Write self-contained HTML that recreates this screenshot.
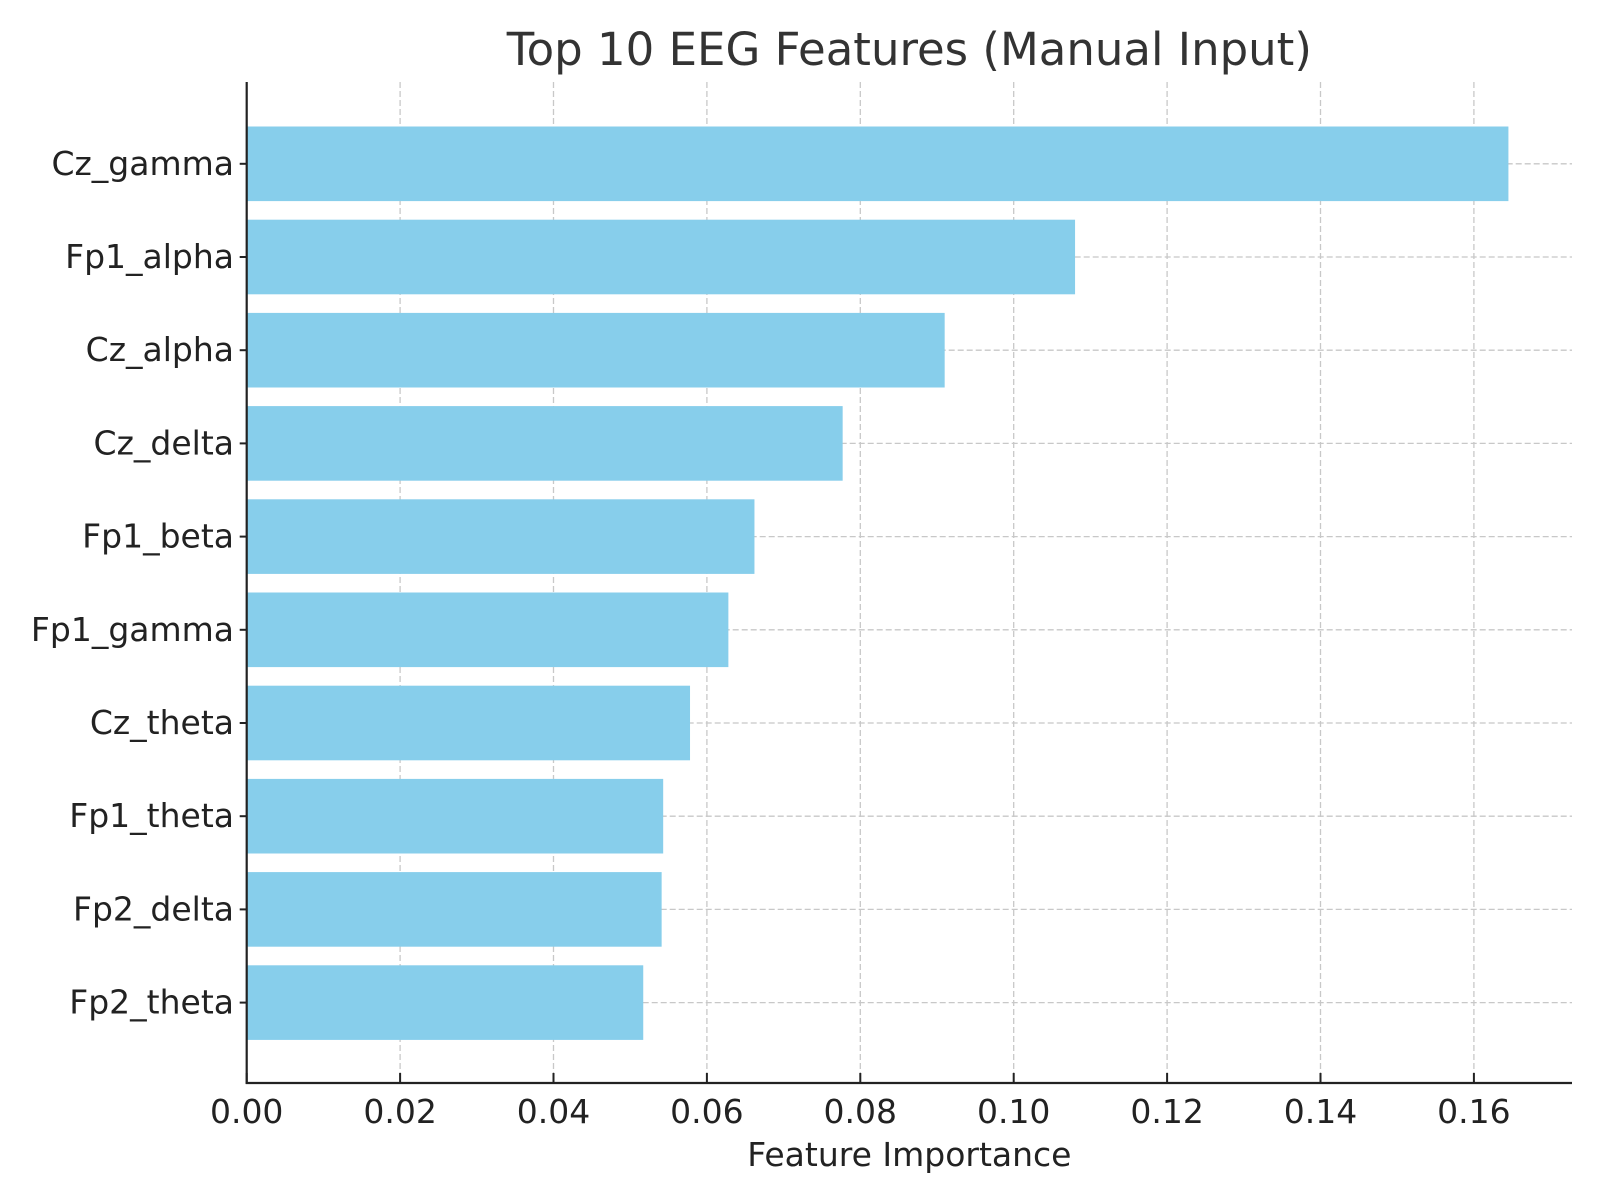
<!DOCTYPE html>
<html><head><meta charset="utf-8"><style>html,body{margin:0;background:#fff}svg{display:block}</style></head>
<body>
<svg id="chart" width="1600" height="1200" xmlns="http://www.w3.org/2000/svg" font-family="DejaVu Sans, Liberation Sans, sans-serif"></svg>
<script>
const categories = ["Cz_gamma","Fp1_alpha","Cz_alpha","Cz_delta","Fp1_beta","Fp1_gamma","Cz_theta","Fp1_theta","Fp2_delta","Fp2_theta"];
const values = [0.1645,0.1080,0.0910,0.0777,0.0662,0.0628,0.0578,0.0543,0.0541,0.0517];
const xTicks = [0,0.02,0.04,0.06,0.08,0.10,0.12,0.14,0.16];
const xTickLabels = ["0.00","0.02","0.04","0.06","0.08","0.10","0.12","0.14","0.16"];

const L=246.7, R=1572, T=82, B=1083;
const pxPerUnit = 153.4/0.02;
const x = v => L + v*pxPerUnit;
const y0 = 163.8, step = 93.2, bh = 74.6;
const y = i => y0 + i*step;
const svg = document.getElementById('chart');
const NS="http://www.w3.org/2000/svg";
function mk(tag, attrs, text){const e=document.createElementNS(NS,tag);for(const k in attrs)e.setAttribute(k,attrs[k]);if(text!==undefined)e.textContent=text;svg.appendChild(e);return e;}

xTicks.forEach((t,i)=>{
  const g=mk('line',{x1:x(t),x2:x(t),y1:T,y2:B,stroke:'#c8c8c8','stroke-width':1.3,'stroke-dasharray':'6,3'});
  
  
});
categories.forEach((c,i)=>{
  const g=mk('line',{x1:L,x2:R,y1:y(i),y2:y(i),stroke:'#c8c8c8','stroke-width':1.3,'stroke-dasharray':'6,3'});
  
  
});
categories.forEach((c,i)=>{
  const r=mk('rect',{x:L,y:y(i)-bh/2,width:x(values[i])-L,height:bh,fill:'#87ceeb'});
  
  
  const t=mk('text',{x:234,y:y(i)+11,'text-anchor':'end','font-size':33,fill:'#222'},c);
  
  
  const tk=mk('line',{x1:L-7,x2:L,y1:y(i),y2:y(i),stroke:'#222','stroke-width':2});
  
  
});
xTicks.forEach((t,i)=>{
  const tk=mk('line',{x1:x(t),x2:x(t),y1:B,y2:B-10,stroke:'#222','stroke-width':2});
  
  
  const lb=mk('text',{x:x(t),y:B+40,'text-anchor':'middle','font-size':33,fill:'#222'},xTickLabels[i]);
  
  
});
const ay=mk('line',{x1:L,x2:L,y1:T,y2:B+1,stroke:'#222','stroke-width':2.2});


const ax=mk('line',{x1:L-1,x2:R,y1:B,y2:B,stroke:'#222','stroke-width':2.2});


const xt=mk('text',{x:(L+R)/2,y:1166,'text-anchor':'middle','font-size':33,fill:'#222'},'Feature Importance');


const tt=mk('text',{x:(L+R)/2,y:65,'text-anchor':'middle','font-size':45,fill:'#333'},'Top 10 EEG Features (Manual Input)');


</script>
</body></html>
